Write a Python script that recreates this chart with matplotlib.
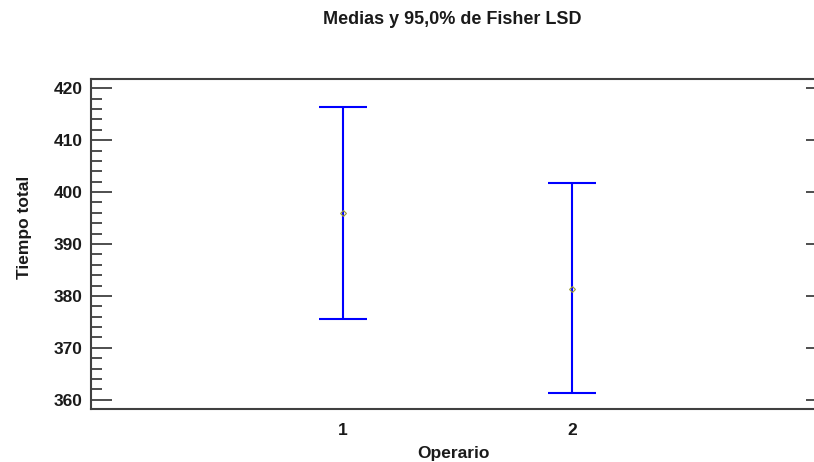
import matplotlib
matplotlib.use("Agg")
import matplotlib.pyplot as plt
import numpy as np
from matplotlib.ticker import MultipleLocator

plt.rcParams['font.family'] = ['Liberation Sans', 'DejaVu Sans']

operarios = ['1', '2']
medias = [396.0, 381.3]
limite_inferior = [375.5, 361.2]
limite_superior = [416.4, 401.7]

W, H = 814, 462
fig = plt.figure(figsize=(W / 100, H / 100), dpi=100)
left, right, top, bottom = 91, 816, 79, 409
ax = fig.add_axes([left / W, 1 - bottom / H, (right - left) / W, (bottom - top) / H])

x = np.arange(1, len(operarios) + 1)
means = np.array(medias)
lo = means - np.array(limite_inferior)
hi = np.array(limite_superior) - means

ax.errorbar(x, means, yerr=[lo, hi], fmt='none', ecolor='#0000ff',
            elinewidth=1.5, capsize=17.5, capthick=1.5)
ax.plot(x, means, ls='none', marker='D', ms=3, mfc='none', mec='#999933', mew=0.8)

ylim = (358.2, 421.8)
ax.set_xlim(-0.098, 3.064)
ax.set_ylim(*ylim)
ax.set_xticks(x)
ax.set_xticklabels(operarios)
ax.yaxis.set_major_locator(MultipleLocator(10))
ax.yaxis.set_minor_locator(MultipleLocator(2))

spine_c = '#404040'
for s in ['left', 'top', 'bottom']:
    ax.spines[s].set_color(spine_c)
    ax.spines[s].set_linewidth(1.5)
ax.spines['right'].set_visible(False)

ax.tick_params(axis='x', length=0, pad=10, labelsize=12.5, colors='#1a1a1a')
ax.tick_params(axis='y', which='major', direction='in', length=15, width=1.3,
               color=spine_c, labelsize=12.5, labelcolor='#1a1a1a', pad=6)
ax.tick_params(axis='y', which='minor', direction='in', length=8, width=1.3,
               color=spine_c)
for lab in ax.get_xticklabels() + ax.get_yticklabels():
    lab.set_fontweight('bold')

# short inward ticks on the right side, majors only
ax2 = ax.twinx()
ax2.set_ylim(*ylim)
ax2.yaxis.set_major_locator(MultipleLocator(10))
ax2.tick_params(axis='y', which='major', direction='in', length=7, width=1.3,
                color=spine_c, labelright=False)
for s in ax2.spines.values():
    s.set_visible(False)

ax.set_xlabel('Operario', fontsize=12.5, fontweight='bold', color='#1a1a1a', labelpad=6)
ax.set_ylabel('Tiempo total', fontsize=12.5, fontweight='bold', color='#1a1a1a')
ax.yaxis.set_label_coords(-0.082, 0.55)

fig.text((91 + 814) / 2 / W, 1 - 20 / H, 'Medias y 95,0% de Fisher LSD',
         ha='center', va='center', fontsize=13, fontweight='bold', color='#1a1a1a')

fig.savefig('out.png', dpi=100)
